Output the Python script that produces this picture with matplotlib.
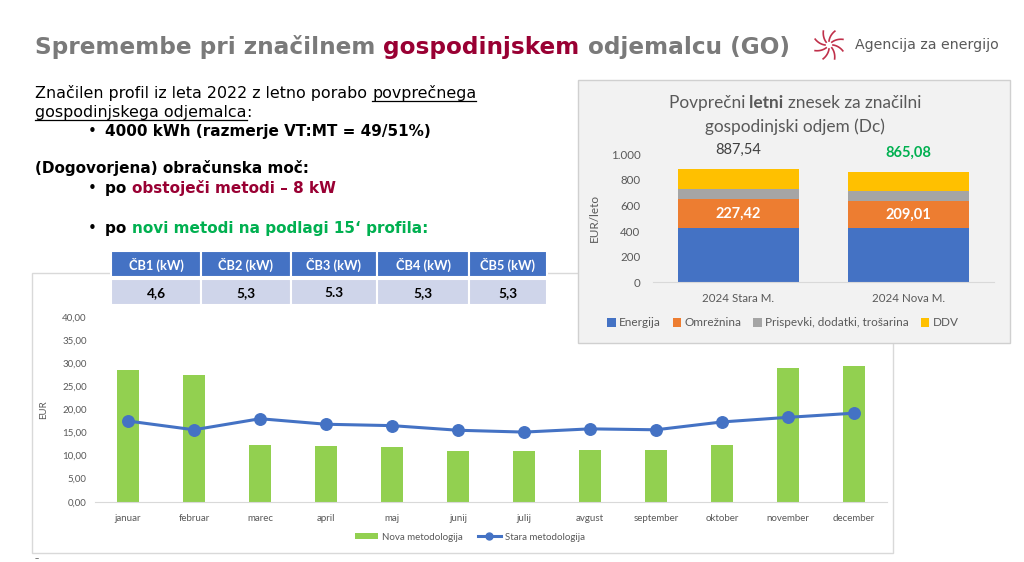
import numpy as np
import matplotlib
matplotlib.use("Agg")
import matplotlib.pyplot as plt
from matplotlib.patches import Rectangle, Patch
from matplotlib.lines import Line2D
from matplotlib.ticker import FuncFormatter

W, H = 1024, 562

# monthly bill, EUR
months = ["januar", "februar", "marec", "april", "maj", "junij", "julij",
          "avgust", "september", "oktober", "november", "december"]
nova = [28.6, 27.5, 12.4, 12.0, 11.8, 11.1, 11.1, 11.3, 11.3, 12.2, 28.9, 29.4]
stara = [17.5, 15.6, 18.0, 16.8, 16.5, 15.5, 15.1, 15.8, 15.6, 17.3, 18.3, 19.2]

# yearly bill split, EUR/leto
scenarios = ["2024 Stara M.", "2024 Nova M."]
energija = [424.0, 424.0]
omreznina = [227.42, 209.01]
prispevki = [80.0, 78.0]
ddv = [156.12, 154.07]
totals = [887.54, 865.08]

# obracunska moc per time block
cb_headers = ["ČB1 (kW)", "ČB2 (kW)", "ČB3 (kW)", "ČB4 (kW)", "ČB5 (kW)"]
cb_values = ["4,6", "5,3", "5.3", "5,3", "5,3"]

GREY = "#595959"
TITLE_GREY = "#7a7a7a"
DARK_RED = "#990033"
GREEN = "#00b050"
BLUE = "#4472c4"
ORANGE = "#ed7d31"
SILVER = "#a5a5a5"
YELLOW = "#ffc000"
LIME = "#92d050"
CHART_FONT = ["Lato", "DejaVu Sans"]
BODY_FONT = ["DejaVu Sans"]


def rect_px(x0, y0, x1, y1):
    # pixel box (top-left origin) -> figure fraction
    return [x0 / W, 1 - y1 / H, (x1 - x0) / W, (y1 - y0) / H]


fig = plt.figure(figsize=(W / 100, H / 100), dpi=100)
fig.patch.set_facecolor("white")

# overlay axes in pixel units for the slide decorations
bg = fig.add_axes([0, 0, 1, 1])
bg.set_xlim(0, W)
bg.set_ylim(H, 0)
bg.axis("off")
renderer = fig.canvas.get_renderer()


def text_width(s, size, weight, family):
    t = bg.text(0, 0, s + "|", fontsize=size, weight=weight, family=family)
    w1 = t.get_window_extent(renderer).width
    t.set_text("|")
    w2 = t.get_window_extent(renderer).width
    t.remove()
    return w1 - w2


def draw_runs(x, y, runs, size, family=BODY_FONT, center=False, zorder=5):
    """runs: list of (text, color, weight, underline)"""
    widths = [text_width(r[0], size, r[2], family) for r in runs]
    if center:
        x = x - sum(widths) / 2
    for (txt, col, wt, ul), w in zip(runs, widths):
        bg.text(x, y, txt, fontsize=size, color=col, weight=wt, family=family,
                va="baseline", ha="left", zorder=zorder)
        if ul:
            bg.plot([x, x + w], [y + 2.5, y + 2.5], color=col, lw=0.9, zorder=zorder)
        x += w


# --- frames
bg.add_patch(Rectangle((32, 273), 861, 280, facecolor="white", edgecolor="#d9d9d9", lw=1, zorder=1))
bg.add_patch(Rectangle((578, 80), 432, 263, facecolor="#f2f2f2", edgecolor="#d0d0d0", lw=1, zorder=2))

# --- title
draw_runs(35, 54, [("Spremembe pri značilnem ", TITLE_GREY, "bold", False),
                   ("gospodinjskem ", DARK_RED, "bold", False),
                   ("odjemalcu (GO)", TITLE_GREY, "bold", False)], 16.7)

# logo
for k in range(8):
    a0 = k * np.pi / 4
    r = np.linspace(4, 15, 14)
    th = a0 + 0.4 * (r - 4) / 11
    bg.plot(829 + r * np.cos(th), 45 + r * np.sin(th), color="#c0304a", lw=1.2, zorder=5)
bg.text(855, 45, "Agencija za energijo", fontsize=10.2, color=GREY, va="center",
        family=BODY_FONT, zorder=5)

# --- body text
K = "black"
REG = 11.4
BLD = 11.0
draw_runs(35, 98, [("Značilen profil iz leta 2022 z letno porabo ", K, "normal", False),
                   ("povprečnega", K, "normal", True)], REG)
draw_runs(35, 117, [("gospodinjskega odjemalca", K, "normal", True),
                    (":", K, "normal", False)], REG)
bg.text(88, 136, "•", fontsize=BLD, va="baseline", family=BODY_FONT, zorder=5)
draw_runs(105, 136, [("4000 kWh (razmerje VT:MT = 49/51%)", K, "bold", False)], BLD)
draw_runs(35, 173, [("(Dogovorjena) obračunska moč:", K, "bold", False)], BLD)
bg.text(88, 193, "•", fontsize=BLD, va="baseline", family=BODY_FONT, zorder=5)
draw_runs(105, 193, [("po ", K, "bold", False),
                     ("obstoječi metodi – 8 kW", DARK_RED, "bold", False)], BLD)
bg.text(88, 233, "•", fontsize=BLD, va="baseline", family=BODY_FONT, zorder=5)
draw_runs(105, 233, [("po ", K, "bold", False),
                     ("novi metodi na podlagi 15‘ profila:", GREEN, "bold", False)], BLD)

# --- table
col_edges = [111, 201, 291, 377, 469, 547]
for i in range(len(cb_headers)):
    x0, x1 = col_edges[i], col_edges[i + 1]
    bg.add_patch(Rectangle((x0, 251), x1 - x0, 26, facecolor=BLUE, edgecolor="white", lw=1.5, zorder=6))
    bg.add_patch(Rectangle((x0, 279), x1 - x0, 26, facecolor="#cfd5ea", edgecolor="white", lw=1.5, zorder=6))
    bg.text((x0 + x1) / 2, 265, cb_headers[i], fontsize=9.3, color="white", weight="bold",
            ha="center", va="center", family=CHART_FONT, zorder=7)
    bg.text((x0 + x1) / 2, 293, cb_values[i], fontsize=9.8, color="black", weight="bold",
            ha="center", va="center", family=CHART_FONT, zorder=7)

bg.text(35, 559, "–", fontsize=6, color=GREY, va="center", zorder=5)

# --- monthly chart
ax = fig.add_axes(rect_px(95, 317.3, 887, 501.7))
ax.patch.set_alpha(0)
x = np.arange(len(months))
ax.bar(x, nova, width=0.32, color=LIME, zorder=2)
ax.plot(x, stara, color=BLUE, lw=2.2, marker="o", ms=8.3, zorder=3)
ax.set_xlim(-0.5, 11.5)
ax.set_ylim(0, 40)
ax.set_yticks(np.arange(0, 41, 5))
ax.yaxis.set_major_formatter(FuncFormatter(lambda v, p: f"{v:.2f}".replace(".", ",")))
ax.set_xticks(x)
ax.set_xticklabels(months, family=CHART_FONT)
for lab in ax.get_yticklabels():
    lab.set_family(CHART_FONT)
ax.tick_params(axis="both", length=0, labelsize=7, colors=GREY)
ax.tick_params(axis="x", pad=9)
ax.tick_params(axis="y", pad=6)
for s in ["top", "right", "left"]:
    ax.spines[s].set_visible(False)
ax.spines["bottom"].set_color("#d9d9d9")
ax.set_ylabel("EUR", fontsize=7, color=GREY, family=CHART_FONT, labelpad=10)

handles = [Patch(facecolor=LIME, edgecolor="none"),
           Line2D([], [], color=BLUE, lw=2.2, marker="o", ms=5)]
fig.legend(handles, ["Nova metodologija", "Stara metodologija"], loc="center",
           bbox_to_anchor=(470 / W, 1 - 537 / H), ncol=2, frameon=False,
           prop={"family": CHART_FONT, "size": 7}, labelcolor=GREY,
           handlelength=2.4, handleheight=0.6, handletextpad=0.4, columnspacing=1.5)

# --- yearly stacked chart
ax2 = fig.add_axes(rect_px(653, 154.3, 994, 282.3))
ax2.patch.set_alpha(0)
xs = np.arange(len(scenarios))
bottom = np.zeros(len(scenarios))
parts = [(energija, BLUE, "Energija"), (omreznina, ORANGE, "Omrežnina"),
         (prispevki, SILVER, "Prispevki, dodatki, trošarina"), (ddv, YELLOW, "DDV")]
for vals, col, lab in parts:
    ax2.bar(xs, vals, 0.71, bottom=bottom, color=col, label=lab, zorder=2)
    bottom += np.array(vals)
for i in range(len(scenarios)):
    mid = energija[i] + omreznina[i] / 2
    ax2.text(xs[i], mid, f"{omreznina[i]:.2f}".replace(".", ","), color="white",
             weight="bold", fontsize=10.5, ha="center", va="center", family=CHART_FONT)
ax2.text(xs[0], totals[0] + 145, f"{totals[0]:.2f}".replace(".", ","), color="#404040",
         fontsize=10.5, ha="center", va="center", family=CHART_FONT, clip_on=False)
ax2.text(xs[1], totals[1] + 145, f"{totals[1]:.2f}".replace(".", ","), color=GREEN,
         weight="bold", fontsize=10.5, ha="center", va="center", family=CHART_FONT, clip_on=False)
ax2.set_xlim(-0.5, 1.5)
ax2.set_ylim(0, 1000)
ax2.set_yticks(np.arange(0, 1001, 200))
ax2.yaxis.set_major_formatter(FuncFormatter(lambda v, p: f"{int(v):,}".replace(",", ".")))
ax2.set_xticks(xs)
ax2.set_xticklabels(scenarios, family=CHART_FONT)
for lab in ax2.get_yticklabels():
    lab.set_family(CHART_FONT)
ax2.tick_params(axis="both", length=0, labelsize=8.3, colors=GREY)
ax2.tick_params(axis="x", pad=8)
ax2.tick_params(axis="y", pad=9)
for s in ["top", "right", "left"]:
    ax2.spines[s].set_visible(False)
ax2.spines["bottom"].set_color("#d9d9d9")
ax2.set_ylabel("EUR/leto", fontsize=8.5, color=GREY, family=CHART_FONT, labelpad=8)

draw_runs(795, 108, [("Povprečni ", GREY, "normal", False), ("letni ", GREY, "bold", False),
                     ("znesek za značilni", GREY, "normal", False)], 12.4,
          family=CHART_FONT, center=True)
draw_runs(795, 132, [("gospodinjski odjem (Dc)", GREY, "normal", False)], 12.4,
          family=CHART_FONT, center=True)

fig.legend(*ax2.get_legend_handles_labels(), loc="center",
           bbox_to_anchor=(783 / W, 1 - 323 / H), ncol=4, frameon=False,
           prop={"family": CHART_FONT, "size": 8.5}, labelcolor=GREY,
           handlelength=0.7, handleheight=0.7, handletextpad=0.3, columnspacing=1.0)

fig.savefig("out.png", dpi=100)
